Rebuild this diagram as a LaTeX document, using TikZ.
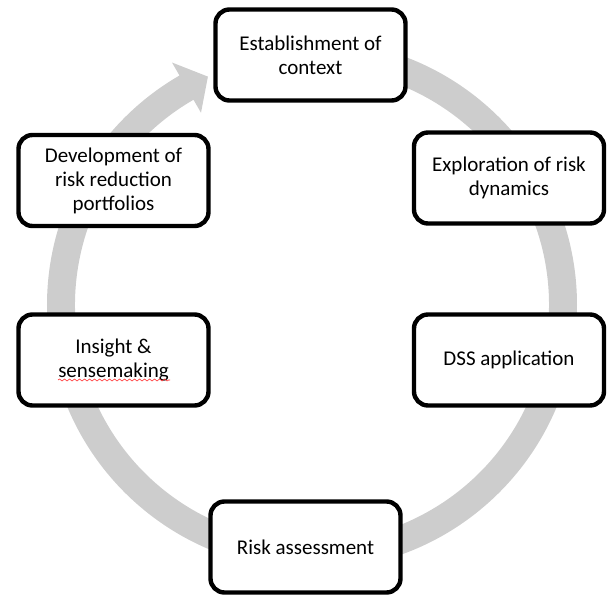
\documentclass[tikz,border=0pt]{standalone}
\usepackage{fontspec}
\setmainfont{Carlito}
\usepackage{tikz}
\usetikzlibrary{decorations.pathmorphing}

\definecolor{cyclegray}{RGB}{205,205,205}

\begin{document}
\begin{tikzpicture}[x=0.5pt, y=0.5pt,
        stagebox/.style={draw=black, line width=2.2pt, rounded corners=7pt, fill=white,
            minimum width=95pt, minimum height=45.5pt, align=center,
            font=\fontsize{10.5}{12}\selectfont}]
        \useasboundingbox (0,0) rectangle (607,596);

        % Cycle arrow.
        \fill[cyclegray, shift={(312,291)}] (90:265) arc[start angle=90, end angle=-240, radius=265]
            -- (-240:280) -- (-245.5:251) -- (-240:222) -- (-240:237)
            arc[start angle=-240, end angle=90, radius=237] -- cycle;

        % Stages.
        \node[stagebox] (context) at (310.5,541) {Establishment of\\context};
        \node[stagebox] (dynamics) at (509,418) {Exploration of risk\\dynamics};
        \node[stagebox] (dss) at (509,236) {DSS application};
        \node[stagebox] (assess) at (305.5,49) {Risk assessment};
        \node[stagebox] (insight) at (113.5,236) {Insight \&\\sensemaking};
        \node[stagebox] (portfolio) at (113.5,415.5) {Development of\\risk reduction\\portfolios};

        \draw[red!80, line width=0.3pt, decorate, decoration={snake, amplitude=0.5pt, segment length=2.5pt}]
            (58,216) -- (170,216);

    \end{tikzpicture}
\end{document}
